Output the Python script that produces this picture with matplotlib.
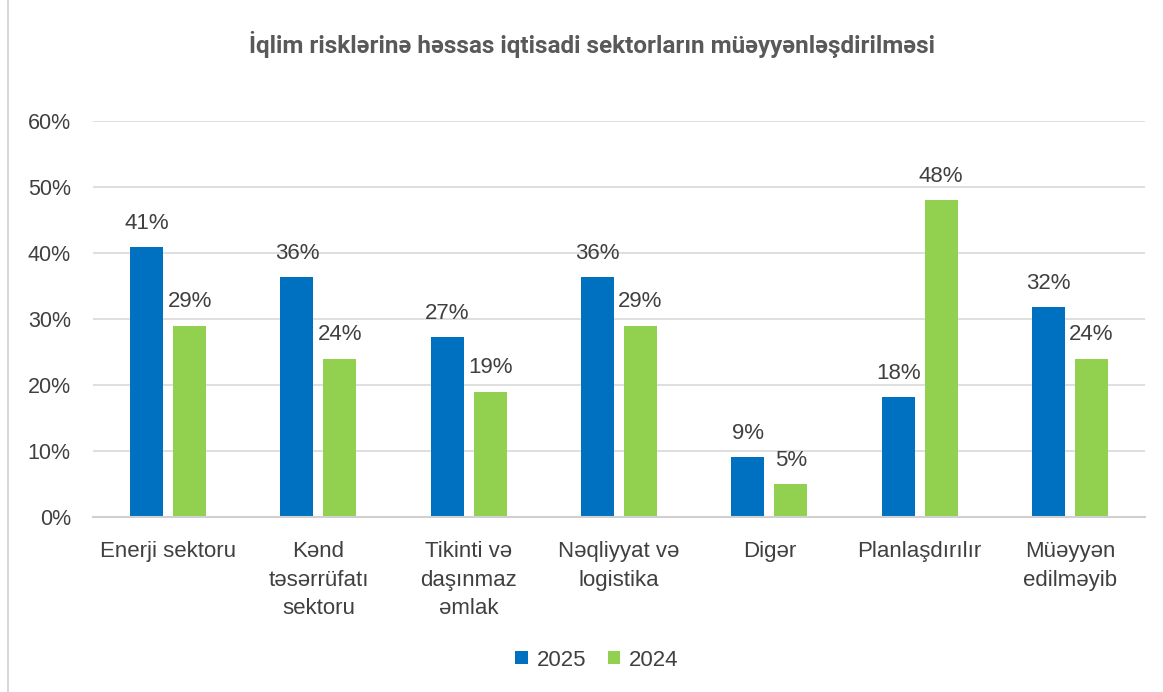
import matplotlib
matplotlib.use("Agg")
import matplotlib.pyplot as plt
import numpy as np
from matplotlib.ticker import FuncFormatter

categories = ["Enerji sektoru", "Kənd\ntəsərrüfatı\nsektoru", "Tikinti və\ndaşınmaz\nəmlak",
              "Nəqliyyat və\nlogistika", "Digər", "Planlaşdırılır", "Müəyyən\nedilməyib"]
values_2025 = [40.9, 36.4, 27.3, 36.4, 9.1, 18.2, 31.8]
values_2024 = [29, 24, 19, 29, 5, 48, 24]
series_names = ["2025", "2024"]
title = "İqlim risklərinə həssas iqtisadi sektorların müəyyənləşdirilməsi"

plt.rcParams['font.family'] = ['Liberation Sans', 'DejaVu Sans']
TXT = "#404040"
BLUE = "#0070C0"
GREEN = "#92D050"

fig = plt.figure(figsize=(11.63, 6.92), dpi=100)
ax = fig.add_axes([93/1163, 1-517/692, (1145-93)/1163, (517-121)/692])

x = np.arange(len(categories))
w = 0.22
off = 0.143
b1 = ax.bar(x - off, values_2025, w, color=BLUE, label=series_names[0], zorder=3)
b2 = ax.bar(x + off, values_2024, w, color=GREEN, label=series_names[1], zorder=3)

for bars, vals in ((b1, values_2025), (b2, values_2024)):
    for r, v in zip(bars, vals):
        ax.annotate(f"{v:.0f}%", (r.get_x() + r.get_width()/2, r.get_height()),
                    xytext=(0, 9.5), textcoords="offset points", ha="center", va="bottom",
                    fontsize=16, color=TXT)

ax.set_ylim(0, 60)
ax.set_xlim(-0.5, len(categories) - 0.5)
ax.set_yticks(np.arange(0, 61, 10))
ax.yaxis.set_major_formatter(FuncFormatter(lambda v, p: f"{v:.0f}%"))
ax.set_xticks(x)
ax.set_xticklabels(categories, linespacing=1.45)
ax.tick_params(axis='y', length=0, pad=16, labelsize=15.5, labelcolor=TXT)
ax.tick_params(axis='x', length=0, pad=17.5, labelsize=16, labelcolor=TXT)
ax.grid(axis='y', color="#D9D9D9", linewidth=1.2, zorder=0)
for s in ("top", "right", "left"):
    ax.spines[s].set_visible(False)
ax.spines["bottom"].set_color("#D0D0D0")
ax.spines["bottom"].set_linewidth(1.5)
ax.spines["bottom"].set_zorder(4)

fig.text(592/1163, 1-44/692, title, ha="center", va="center", fontsize=17.5,
         fontweight="bold", color="#595959", family=["Roboto", "DejaVu Sans"])

leg = fig.legend(loc="center", bbox_to_anchor=(597/1163, 1-660/692), ncol=2, frameon=False,
                 fontsize=16, handlelength=0.55, handleheight=0.55, handletextpad=0.4,
                 columnspacing=1.0)
for t in leg.get_texts():
    t.set_color(TXT)

fig.add_artist(plt.Line2D([8/1163, 8/1163], [0, 1], transform=fig.transFigure,
                          color="#D9D9D9", linewidth=1.5))

fig.savefig("out.png", dpi=100, facecolor="white")
